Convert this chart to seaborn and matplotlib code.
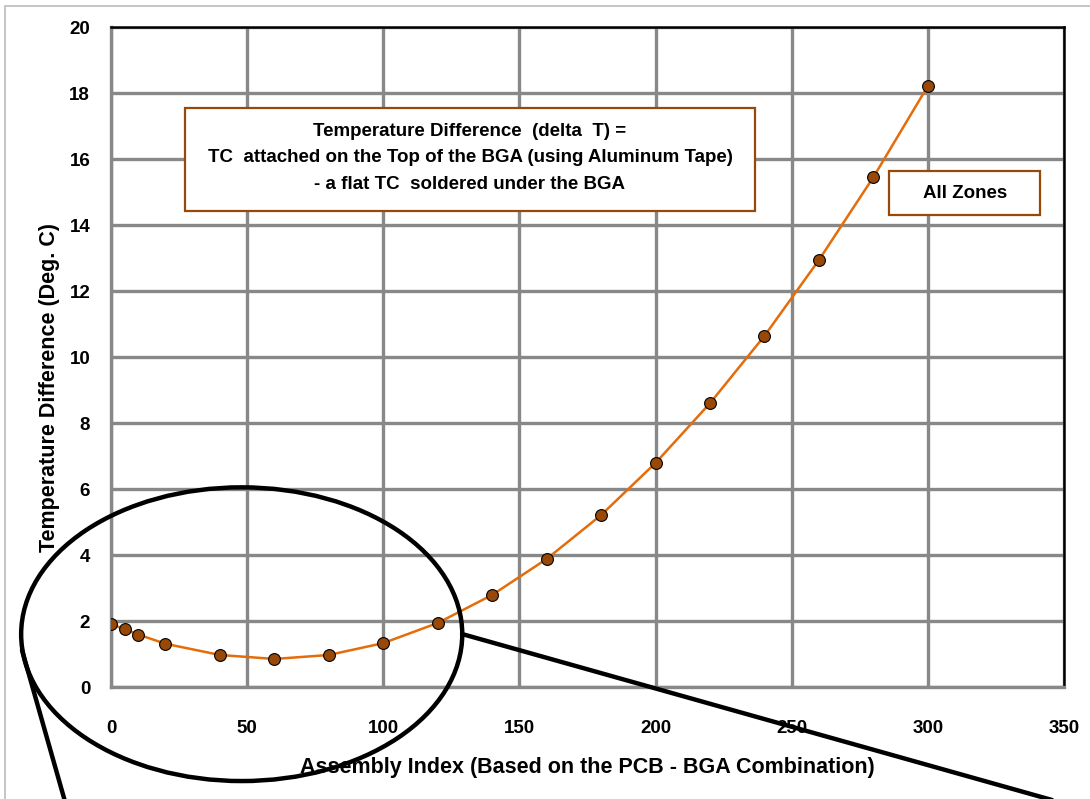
import numpy as np
import matplotlib
matplotlib.use("Agg")
import matplotlib.pyplot as plt
from matplotlib.patches import Ellipse, Rectangle
from matplotlib.lines import Line2D
import pandas as pd
import seaborn as sns

# assembly index vs temperature difference
assembly_index = [0, 5, 10, 20, 40, 60, 80, 100, 120, 140, 160, 180, 200, 220, 240, 260, 280, 300]
delta_t = [1.91, 1.75, 1.59, 1.31, 0.97, 0.85, 0.97, 1.33, 1.94, 2.79, 3.88, 5.21,
           6.79, 8.6, 10.64, 12.94, 15.45, 18.21]

x_ticks = [0, 50, 100, 150, 200, 250, 300, 350]
y_ticks = [0, 2, 4, 6, 8, 10, 12, 14, 16, 18, 20]

box_text = ("Temperature Difference  (delta  T) =\n"
            "TC  attached on the Top of the BGA (using Aluminum Tape)\n"
            "- a flat TC  soldered under the BGA")
zone_text = "All Zones"

sns.set_style("white")
plt.rcParams['font.family'] = ['Liberation Sans', 'DejaVu Sans']
plt.rcParams['font.weight'] = 'bold'
for key in ['text.color', 'axes.labelcolor', 'xtick.labelcolor', 'ytick.labelcolor']:
    plt.rcParams[key] = 'black'

df = pd.DataFrame({"idx": assembly_index, "dt": delta_t})

fig = plt.figure(figsize=(10.9, 7.99), dpi=100)
ax = fig.add_axes([111 / 1090, 1 - 687 / 799, (1064 - 111) / 1090, (687 - 27) / 799])

grid_col = '#888888'
line_col = '#E46C0A'
brown = '#984807'

sns.lineplot(data=df, x="idx", y="dt", ax=ax, color=line_col, linewidth=1.8,
             marker='o', markersize=8.5, markerfacecolor=brown,
             markeredgecolor='black', markeredgewidth=0.8, zorder=5)

ax.set_xlim(0, 350)
ax.set_ylim(0, 20)
ax.set_xticks(x_ticks)
ax.set_yticks(y_ticks)
ax.grid(True, color=grid_col, linewidth=2.4)
ax.set_axisbelow(True)
ax.tick_params(axis='both', which='both', length=5, width=1.2, color=grid_col,
               direction='out', labelsize=13.5, labelcolor='black')
ax.tick_params(axis='x', pad=19)
ax.tick_params(axis='y', pad=10)
for lbl in ax.get_xticklabels() + ax.get_yticklabels():
    lbl.set_fontweight('bold')

for side in ['top', 'right']:
    ax.spines[side].set_color('black')
    ax.spines[side].set_linewidth(1.8)
for side in ['left', 'bottom']:
    ax.spines[side].set_color(grid_col)
    ax.spines[side].set_linewidth(2.4)

ax.set_xlabel("Assembly Index (Based on the PCB - BGA Combination)", fontsize=15.5,
              fontweight='bold', color='black')
ax.set_ylabel("Temperature Difference (Deg. C)", fontsize=15.5, fontweight='bold',
              color='black')
ax.xaxis.set_label_coords(0.5, -(767 - 687) / 660)
ax.yaxis.set_label_coords(-(111 - 50) / 953, (687 - 388) / 660)
ax.xaxis.label.set_va('center')
ax.yaxis.label.set_va('center')

# text boxes
ax.text((470 - 111) / 953, (687 - 158) / 660, box_text, transform=ax.transAxes,
        ha='center', va='center', fontsize=13.5, fontweight='bold', linespacing=1.7,
        color='black', zorder=7)
ax.add_patch(Rectangle(((185 - 111) / 953, (687 - 211) / 660), 570 / 953, 103 / 660,
                       transform=ax.transAxes, facecolor='white', edgecolor=brown,
                       linewidth=1.6, zorder=6))
ax.text((965 - 111) / 953, (687 - 193) / 660, zone_text, transform=ax.transAxes,
        ha='center', va='center', fontsize=13.5, fontweight='bold', color='black', zorder=7)
ax.add_patch(Rectangle(((889 - 111) / 953, (687 - 215) / 660), 151 / 953, 44 / 660,
                       transform=ax.transAxes, facecolor='white', edgecolor=brown,
                       linewidth=1.6, zorder=6))

# zoom ellipse and call-out lines
ax.add_patch(Ellipse((48, 1.6), 162, 8.9, fill=False, edgecolor='black', linewidth=3.2,
                     clip_on=False, zorder=8))
fig.add_artist(Line2D([22 / 1090, 66 / 1090], [1 - 650 / 799, 1 - 805 / 799],
                      color='black', linewidth=3.2))
fig.add_artist(Line2D([462 / 1090, 1052 / 1090], [1 - 634 / 799, 1 - 800 / 799],
                      color='black', linewidth=3.2))

# outer chart border
fig.add_artist(Rectangle((5 / 1090, -0.1), 1.2, 1 - 6 / 799 + 0.1, transform=fig.transFigure,
                         fill=False, edgecolor='#BBBBBB', linewidth=1.2))

fig.savefig("out.png", dpi=100)
